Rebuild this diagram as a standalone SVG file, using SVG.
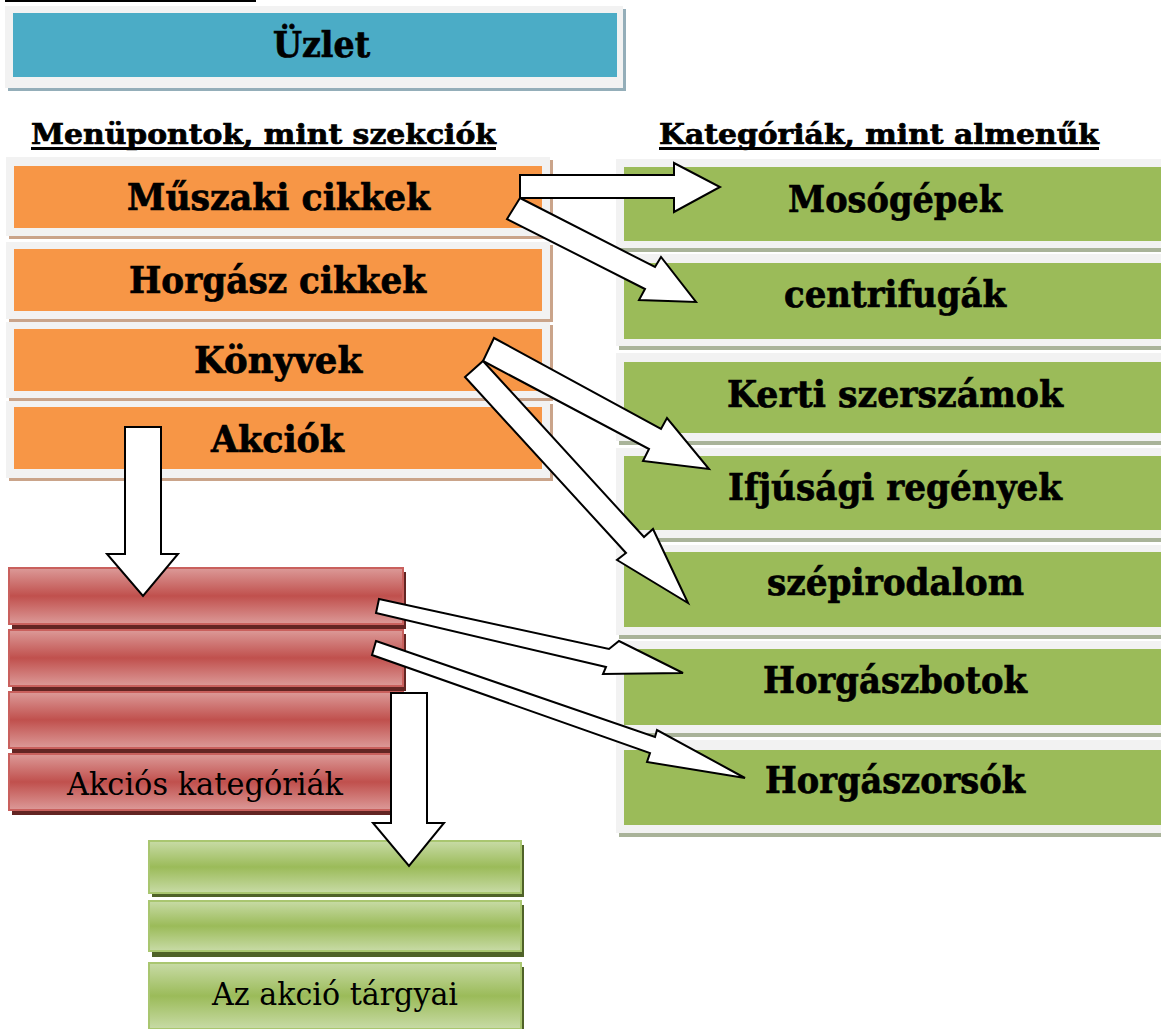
<svg xmlns="http://www.w3.org/2000/svg" width="1161" height="1029" viewBox="0 0 1161 1029">
<defs>
<linearGradient id="gRed" x1="0" y1="0" x2="0" y2="1">
<stop offset="0" stop-color="#dc9a98"/><stop offset="0.5" stop-color="#c0504d"/><stop offset="1" stop-color="#dc9a98"/>
</linearGradient>
<linearGradient id="gGreen" x1="0" y1="0" x2="0" y2="1">
<stop offset="0" stop-color="#c8dba6"/><stop offset="0.5" stop-color="#9bbb59"/><stop offset="1" stop-color="#c8dba6"/>
</linearGradient>
<style>
.frame{fill:#f2f2f2}
.shT{fill:#94aeb9}
.shO{fill:#caa48a}
.shG{fill:#a9b399}
.teal{fill:#4bacc6}
.orange{fill:#f79646}
.green{fill:#9bbb59}
.red{fill:url(#gRed);stroke:#c9605d;stroke-width:2}
.shR{fill:#632523}
.lg{fill:url(#gGreen);stroke:#a9c670;stroke-width:2}
.shL{fill:#4f6228}
.lb{font-family:"DejaVu Serif",serif;font-weight:bold;fill:#000;stroke:#000;stroke-width:0.7}
.lr{font-family:"DejaVu Serif",serif;font-weight:normal;fill:#000}
.arrow{fill:#fff;stroke:#000;stroke-width:2;stroke-linejoin:miter}
</style>
</defs>
<rect x="5" y="0" width="251" height="2" fill="#000"/>

<g id="uzlet">
<rect class="shT" x="8" y="9" width="618" height="82"/>
<rect class="frame" x="5" y="6" width="618" height="82"/>
<rect class="teal" x="13" y="13" width="604" height="64"/>
<text class="lb" x="273" y="57" font-size="35" textLength="97" lengthAdjust="spacingAndGlyphs">Üzlet</text>
</g>

<g id="header-left">
<text class="lb" x="31" y="144" font-size="27" textLength="465" lengthAdjust="spacingAndGlyphs">Menüpontok, mint szekciók</text>
<rect x="31" y="147" width="465" height="3" fill="#000"/>
</g>
<g id="header-right">
<text class="lb" x="659" y="144" font-size="27" textLength="440" lengthAdjust="spacingAndGlyphs">Kategóriák, mint almenűk</text>
<rect x="659" y="147" width="440" height="3" fill="#000"/>
</g>

<g id="muszaki">
<rect class="shO" x="9" y="160" width="544" height="79"/>
<rect class="frame" x="6" y="157" width="544" height="79"/>
<rect class="orange" x="14" y="166" width="528" height="62"/>
<text class="lb" x="127" y="210" font-size="37" textLength="303" lengthAdjust="spacingAndGlyphs">Műszaki cikkek</text>
</g>
<g id="horgasz">
<rect class="shO" x="9" y="245" width="544" height="77"/>
<rect class="frame" x="6" y="242" width="544" height="77"/>
<rect class="orange" x="14" y="249" width="528" height="62"/>
<text class="lb" x="129" y="293" font-size="37" textLength="297" lengthAdjust="spacingAndGlyphs">Horgász cikkek</text>
</g>
<g id="konyvek">
<rect class="shO" x="9" y="325" width="544" height="76"/>
<rect class="frame" x="6" y="322" width="544" height="76"/>
<rect class="orange" x="14" y="329" width="528" height="62"/>
<text class="lb" x="194" y="373" font-size="37" textLength="168" lengthAdjust="spacingAndGlyphs">Könyvek</text>
</g>
<g id="akciok">
<rect class="shO" x="9" y="404" width="544" height="77"/>
<rect class="frame" x="6" y="401" width="544" height="77"/>
<rect class="orange" x="14" y="407" width="528" height="62"/>
<text class="lb" x="211" y="452" font-size="37" textLength="133" lengthAdjust="spacingAndGlyphs">Akciók</text>
</g>

<g id="mosogepek">
<rect class="shG" x="619" y="163" width="545" height="89"/>
<rect class="frame" x="616" y="159" width="545" height="89"/>
<rect class="green" x="624" y="167" width="537" height="74"/>
<text class="lb" x="788" y="212" font-size="37" textLength="214" lengthAdjust="spacingAndGlyphs">Mosógépek</text>
</g>
<g id="centrifugak">
<rect class="shG" x="619" y="258" width="545" height="92"/>
<rect class="frame" x="616" y="254" width="545" height="92"/>
<rect class="green" x="624" y="263" width="537" height="76"/>
<text class="lb" x="784" y="307" font-size="37" textLength="222" lengthAdjust="spacingAndGlyphs">centrifugák</text>
</g>
<g id="kerti">
<rect class="shG" x="619" y="357" width="545" height="88"/>
<rect class="frame" x="616" y="353" width="545" height="88"/>
<rect class="green" x="624" y="362" width="537" height="71"/>
<text class="lb" x="727" y="407" font-size="37" textLength="336" lengthAdjust="spacingAndGlyphs">Kerti szerszámok</text>
</g>
<g id="ifjusagi">
<rect class="shG" x="619" y="452" width="545" height="90"/>
<rect class="frame" x="616" y="448" width="545" height="90"/>
<rect class="green" x="624" y="456" width="537" height="74"/>
<text class="lb" x="728" y="500" font-size="37" textLength="334" lengthAdjust="spacingAndGlyphs">Ifjúsági regények</text>
</g>
<g id="szepirodalom">
<rect class="shG" x="619" y="549" width="545" height="90"/>
<rect class="frame" x="616" y="545" width="545" height="90"/>
<rect class="green" x="624" y="552" width="537" height="75"/>
<text class="lb" x="767" y="595" font-size="37" textLength="257" lengthAdjust="spacingAndGlyphs">szépirodalom</text>
</g>
<g id="horgaszbotok">
<rect class="shG" x="619" y="645" width="545" height="92"/>
<rect class="frame" x="616" y="641" width="545" height="92"/>
<rect class="green" x="624" y="649" width="537" height="76"/>
<text class="lb" x="763" y="693" font-size="37" textLength="264" lengthAdjust="spacingAndGlyphs">Horgászbotok</text>
</g>
<g id="horgaszorsok">
<rect class="shG" x="619" y="744" width="545" height="93"/>
<rect class="frame" x="616" y="740" width="545" height="93"/>
<rect class="green" x="624" y="750" width="537" height="75"/>
<text class="lb" x="765" y="793" font-size="37" textLength="260" lengthAdjust="spacingAndGlyphs">Horgászorsók</text>
</g>

<g id="akcios-kategoriak">
<rect class="shR" x="12" y="572" width="394" height="57"/>
<rect class="red" x="9" y="568" width="394" height="56"/>
<rect class="shR" x="12" y="634" width="394" height="57"/>
<rect class="red" x="9" y="630" width="394" height="56"/>
<rect class="shR" x="12" y="696" width="394" height="57"/>
<rect class="red" x="9" y="692" width="394" height="56"/>
<rect class="shR" x="12" y="758" width="394" height="57"/>
<rect class="red" x="9" y="754" width="394" height="56"/>
<text class="lr" x="67" y="795" font-size="31" textLength="276" lengthAdjust="spacingAndGlyphs">Akciós kategóriák</text>
</g>

<g id="akcio-targyai">
<rect class="shL" x="152" y="845" width="372" height="52"/>
<rect class="lg" x="149" y="841" width="372" height="52"/>
<rect class="shL" x="152" y="905" width="372" height="52"/>
<rect class="lg" x="149" y="901" width="372" height="50"/>
<rect class="shL" x="152" y="967" width="372" height="66"/>
<rect class="lg" x="149" y="963" width="372" height="66"/>
<text class="lr" x="212" y="1005" font-size="31" textLength="246" lengthAdjust="spacingAndGlyphs">Az akció tárgyai</text>
</g>

<g id="connectors">
<polygon class="arrow" points="520,175 674,175 674,163 720,187 674,212 674,198 520,198"/>
<polygon class="arrow" points="520,198 655,267 661,257 696,302 639,300 645,289 507,219"/>
<polygon class="arrow" points="494,338 661,429 667,418 709,469 643,461 649,449 483,361"/>
<polygon class="arrow" points="483,361 644,537 653,529 688,603 617,560 626,553 465,377"/>
<polygon class="arrow" points="125,427 161,427 161,554 178,554 143,596 107,554 125,554"/>
<polygon class="arrow" points="391,693 427,693 427,823 444,823 409,866 373,823 391,823"/>
<polygon class="arrow" points="379,599 609,649 619,641 683,673 603,674 606,667 376,613"/>
<polygon class="arrow" points="376,641 655,737 657,730 745,778 647,762 650,753 372,655"/>
</g>
</svg>
